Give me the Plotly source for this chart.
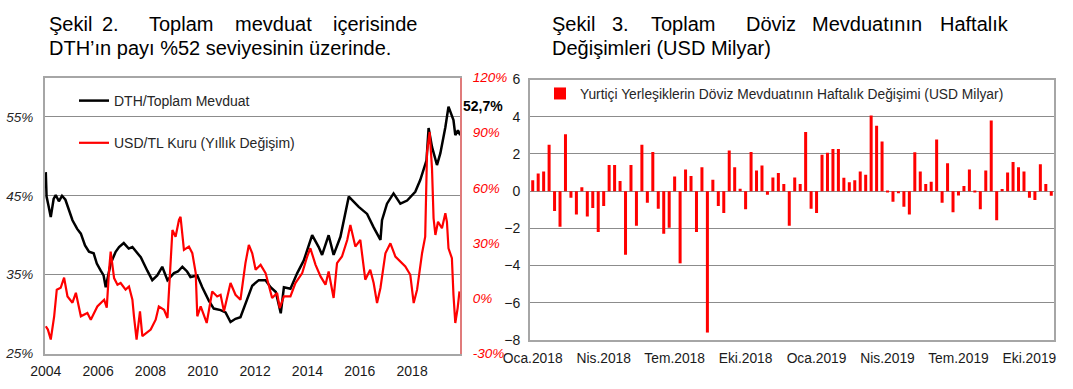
import plotly.graph_objects as go

W, H = 1073, 389

# ---------------- Şekil 2 data ----------------
dth_years = [2004.00, 2004.03, 2004.10, 2004.19, 2004.30, 2004.38, 2004.50, 2004.62, 2004.75, 2004.90,
             2005.02, 2005.20, 2005.34, 2005.50, 2005.65, 2005.83, 2005.95, 2006.10, 2006.21, 2006.29,
             2006.40, 2006.48, 2006.67, 2006.80, 2006.98, 2007.17, 2007.31, 2007.45, 2007.63, 2007.88,
             2008.07, 2008.26, 2008.45, 2008.65, 2008.90, 2009.05, 2009.22, 2009.40, 2009.53, 2009.79,
             2009.98, 2010.23, 2010.42, 2010.68, 2010.87, 2011.06, 2011.25, 2011.44, 2011.63, 2011.89,
             2012.14, 2012.40, 2012.59, 2012.79, 2012.98, 2013.10, 2013.35, 2013.61, 2013.86, 2014.18,
             2014.43, 2014.56, 2014.81, 2015.00, 2015.26, 2015.39, 2015.58, 2015.96, 2016.28, 2016.53,
             2016.79, 2016.85, 2017.04, 2017.29, 2017.55, 2017.81, 2018.12, 2018.31, 2018.44, 2018.55,
             2018.63, 2018.76, 2018.95, 2019.08, 2019.27, 2019.39, 2019.58, 2019.65, 2019.75, 2019.84]
dth_share = [48.0, 44.9, 43.8, 42.3, 44.6, 45.1, 44.3, 45.0, 44.5, 43.2,
             41.9, 40.8, 40.2, 38.7, 37.9, 37.7, 36.4, 35.5, 34.9, 33.4,
             35.3, 36.4, 37.9, 38.5, 39.0, 38.3, 38.5, 37.9, 37.2, 35.5,
             34.3, 34.9, 36.0, 34.3, 35.2, 35.4, 36.0, 35.4, 34.7, 34.9,
             33.4, 31.7, 30.7, 30.5, 30.2, 29.0, 29.4, 29.6, 31.3, 33.6,
             34.3, 34.3, 33.4, 32.8, 30.1, 33.4, 33.2, 35.2, 36.8, 40.0,
             38.5, 37.5, 40.0, 37.5, 39.8, 41.9, 44.9, 43.6, 42.7, 41.0,
             39.4, 41.9, 44.0, 45.3, 44.0, 44.4, 45.5, 47.0, 48.3, 49.5,
             53.6, 51.2, 48.9, 50.4, 53.7, 56.3, 54.6, 52.7, 53.3, 52.7]

usd_years = [2004.00, 2004.08, 2004.19, 2004.32, 2004.42, 2004.57, 2004.70, 2004.83, 2005.02, 2005.15,
             2005.34, 2005.59, 2005.72, 2005.97, 2006.23, 2006.33, 2006.42, 2006.48, 2006.61, 2006.74,
             2006.86, 2007.05, 2007.18, 2007.31, 2007.37, 2007.47, 2007.60, 2007.69, 2008.01, 2008.20,
             2008.32, 2008.52, 2008.65, 2008.71, 2008.84, 2008.96, 2009.09, 2009.15, 2009.28, 2009.47,
             2009.60, 2009.73, 2009.79, 2009.92, 2010.15, 2010.36, 2010.55, 2010.68, 2010.81, 2011.06,
             2011.25, 2011.44, 2011.63, 2011.76, 2011.89, 2012.02, 2012.21, 2012.40, 2012.52, 2012.65,
             2012.84, 2012.94, 2013.10, 2013.35, 2013.54, 2013.80, 2013.99, 2014.11, 2014.31, 2014.50,
             2014.69, 2014.81, 2015.00, 2015.13, 2015.32, 2015.52, 2015.64, 2015.83, 2016.02, 2016.21,
             2016.40, 2016.53, 2016.66, 2016.79, 2016.98, 2017.17, 2017.36, 2017.55, 2017.74, 2017.93,
             2018.06, 2018.19, 2018.38, 2018.50, 2018.57, 2018.67, 2018.76, 2018.82, 2018.89, 2018.99,
             2019.14, 2019.27, 2019.33, 2019.39, 2019.52, 2019.58, 2019.65, 2019.74, 2019.81]
usd_change = [-15.2, -17.0, -22.4, -9.8, 4.7, 5.7, 11.2, 1.0, -2.4, 3.0,
              -9.8, -8.0, -11.6, -4.4, -0.8, -5.1, 15.5, 25.4, 11.0, 7.4,
              8.3, 4.7, 6.4, -0.8, -9.8, -22.4, -7.1, -20.6, -17.0, -11.6,
              -4.4, -6.2, -10.7, 6.4, 37.1, 33.5, 42.6, 44.3, 26.3, 28.1,
              24.5, 13.7, -9.8, -4.4, -13.4, 3.7, 1.0, 1.9, -7.1, 8.3,
              1.9, -0.8, 19.1, 29.0, 24.5, 15.5, 18.2, 13.7, 6.4, 0.2,
              2.9, -5.3, 1.0, 1.0, 8.3, 13.7, 22.7, 27.2, 18.2, 11.9,
              7.4, 14.6, 0.2, 19.1, 22.7, 31.7, 39.9, 28.1, 31.7, 10.1,
              15.5, 8.3, -2.6, 5.6, 24.5, 29.9, 22.7, 20.0, 17.3, 12.8,
              -2.6, 4.7, 24.5, 33.5, 79.5, 90.4, 70.6, 43.5, 34.4, 41.6,
              38.1, 46.2, 41.6, 27.2, 21.8, 1.9, -13.4, -5.3, 3.7]

left_ticks = [25, 35, 45, 55]
right_ticks = [-30, 0, 30, 60, 90, 120]
year_ticks = [2004, 2006, 2008, 2010, 2012, 2014, 2016, 2018]
last_share_label = "52,7%"

# ---------------- Şekil 3 data ----------------
week_change = [0.59, 0.95, 1.06, 2.50, -1.07, -1.91, 3.06, -0.36, -1.25, 0.21,
               -1.36, -0.91, -2.20, -0.80, 1.40, 1.40, 0.55, -3.42, 1.40, -1.86,
               2.50, -0.63, 2.11, -0.95, -2.29, -1.97, 0.79, -3.88, 1.16, 0.82,
               -2.20, 1.29, -7.60, 0.61, -0.80, -1.18, 2.18, 1.29, 0.13, -0.97,
               2.11, 1.11, 1.38, -0.20, 0.73, 0.97, 0.39, -1.86, 0.73, 0.38,
               3.18, -0.95, -1.18, 1.95, 2.06, 2.27, 2.27, 0.72, 0.48, 0.59,
               1.06, 0.88, 4.06, 3.51, 2.67, -0.07, -0.57, -0.11, -0.84, -1.25,
               2.09, 1.06, 0.38, 0.50, 2.77, -0.63, 1.50, -1.13, -0.23, 0.27,
               1.16, -0.07, -0.97, 1.11, 3.79, -1.57, 0.11, 1.00, 1.57, 1.29,
               1.06, -0.36, -0.47, 1.45, 0.39, -0.25]
quarter_labels = ["Oca.2018", "Nis.2018", "Tem.2018", "Eki.2018",
                  "Oca.2019", "Nis.2019", "Tem.2019", "Eki.2019"]
quarter_pos = [0, 13, 26, 39, 52, 65, 78, 91]
bar_ticks = [-8, -6, -4, -2, 0, 2, 4, 6]

FONT = "Arial, 'Liberation Sans', sans-serif"


def fx(p):
    return p / W


def fy(p):
    return 1 - p / H


fig = go.Figure()
fig.add_trace(go.Scatter(x=dth_years, y=dth_share, mode="lines", name="DTH/Toplam Mevduat",
                         line=dict(color="#000000", width=2.5), xaxis="x", yaxis="y",
                         legend="legend", legendgroup="a"))
fig.add_trace(go.Scatter(x=usd_years, y=usd_change, mode="lines", name="USD/TL Kuru (Yıllık Değişim)",
                         line=dict(color="#FF0000", width=2.2), xaxis="x", yaxis="y2",
                         legend="legend", legendgroup="b"))
fig.add_trace(go.Bar(x=list(range(len(week_change))), y=week_change,
                     name="Yurtiçi Yerleşiklerin Döviz Mevduatının Haftalık Değişimi (USD Milyar)",
                     marker=dict(color="#FF0000", line=dict(width=0)), width=0.55,
                     xaxis="x2", yaxis="y3", legend="legend2"))

GRID = "#8C8C8C"
FRAME = "#A6A6A6"

fig.update_layout(
    width=W, height=H, margin=dict(l=0, r=0, t=0, b=0),
    template="none", paper_bgcolor="white", plot_bgcolor="white",
    font=dict(family=FONT, color="#1a1a1a"),
    showlegend=True, hovermode=False,
    xaxis=dict(domain=[fx(45), fx(460)], range=[2003.97, 2019.83], tickvals=year_ticks,
               ticktext=[str(v) for v in year_ticks], showgrid=False, zeroline=False,
               showline=True, linecolor=FRAME, linewidth=2, mirror=True, ticks="",
               ticklabelstandoff=4,
               tickfont=dict(size=14, color="#1a1a1a"), anchor="y", automargin=False),
    yaxis=dict(domain=[fy(353.5), fy(77.5)], range=[25, 60], tickvals=left_ticks,
               ticktext=[f"{v}%" for v in left_ticks],
               showgrid=True, gridcolor=GRID, gridwidth=1, zeroline=False,
               showline=True, linecolor=FRAME, linewidth=2, ticks="", ticklabelstandoff=7,
               tickfont=dict(size=13.5, color="#262626", style="italic"), anchor="x",
               automargin=False),
    yaxis2=dict(overlaying="y", side="right", range=[-30, 120], tickvals=right_ticks,
                ticktext=[f"{v}%" for v in right_ticks], showgrid=False, zeroline=False,
                showline=True, linecolor="#E07B7B", linewidth=2, ticks="", ticklabelstandoff=8,
                tickfont=dict(size=13.5, color="#FF0000", style="italic"), anchor="x",
                automargin=False),
    xaxis2=dict(domain=[fx(530), fx(1054)], range=[-0.5, len(week_change) - 0.5],
                tickvals=quarter_pos, ticktext=quarter_labels, showgrid=False, zeroline=False,
                showline=True, linecolor=FRAME, linewidth=2, mirror=True, ticks="",
                ticklabelstandoff=4,
                tickfont=dict(size=13.8, color="#1a1a1a"), anchor="y3", automargin=False),
    yaxis3=dict(domain=[fy(340), fy(79.5)], range=[-8, 6], tickvals=bar_ticks,
                showgrid=True, gridcolor=GRID, gridwidth=1, zeroline=False,
                showline=True, linecolor=FRAME, linewidth=2, mirror=True, ticks="",
                ticklabelstandoff=5,
                tickfont=dict(size=14, color="#1a1a1a"), anchor="x2", automargin=False),
    legend=dict(x=fx(74), y=fy(85), xanchor="left", yanchor="top", bgcolor="rgba(0,0,0,0)",
                font=dict(size=14, color="#262626"), tracegroupgap=21, traceorder="grouped"),
    legend2=dict(x=fx(540), y=fy(78), xanchor="left", yanchor="top", bgcolor="rgba(0,0,0,0)",
                 font=dict(size=13.8, color="#262626")),
)

annotations = []
TF = dict(family=FONT, size=20, color="#000000")


def word(text, x, y, anchor="left"):
    annotations.append(dict(text=text, x=fx(x), y=fy(y), xref="paper", yref="paper",
                            xanchor=anchor, yanchor="middle", showarrow=False, font=TF))


# Şekil 2 title (justified first line)
word("Şekil", 47, 24)
word("2.", 100, 24)
word("Toplam", 147, 24)
word("mevduat", 233, 24)
word("içerisinde", 419, 24, "right")
word("DTH’ın payı %52 seviyesinin üzerinde.", 47, 48)

# Şekil 3 title (justified first line)
word("Şekil", 550, 24)
word("3.", 610, 24)
word("Toplam", 649, 24)
word("Döviz", 744, 24)
word("Mevduatının", 810, 24)
word("Haftalık", 1011, 24, "right")
word("Değişimleri (USD Milyar)", 550, 48)

annotations.append(dict(text="<b>" + last_share_label + "</b>", x=fx(461), y=fy(106),
                        xref="paper", yref="paper", xanchor="left", yanchor="middle",
                        showarrow=False, font=dict(family=FONT, size=14, color="#000000")))

fig.update_layout(annotations=annotations)
fig.write_html("out.html", config={"displayModeBar": False},
               post_script="document.body.style.margin='0px';")
